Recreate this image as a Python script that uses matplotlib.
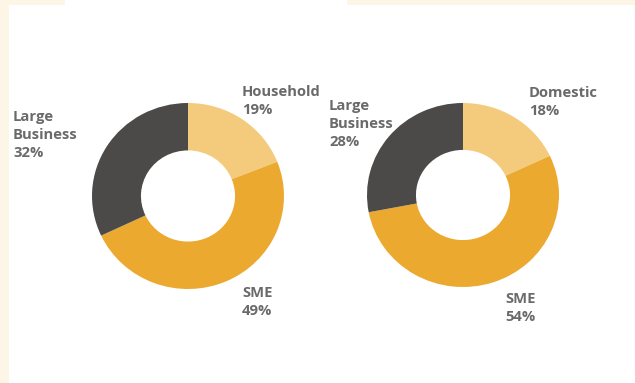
import matplotlib
matplotlib.use("Agg")
import matplotlib.pyplot as plt
from matplotlib.patches import Rectangle

W, H = 635, 383
DPI = 100

# Segment shares for each donut (clockwise from 12 o'clock)
left_labels = ["Household", "SME", "Large\nBusiness"]
left_values = [19, 49, 32]
right_labels = ["Domestic", "SME", "Large\nBusiness"]
right_values = [18, 54, 28]

colors = ["#F4CB7C", "#ECA92F", "#4B4A49"]
text_color = "#6A6A6A"
cream = "#FDF6E6"

fig = plt.figure(figsize=(W / DPI, H / DPI), dpi=DPI)
fig.patch.set_facecolor("white")

# Cream frame fragments
for x, y, w, h in [(0, 0, 9, H), (0, 0, 65, 5), (347, 0, W - 347, 5)]:
    fig.add_artist(Rectangle((x / W, 1 - (y + h) / H), w / W, h / H,
                             transform=fig.transFigure, color=cream, lw=0, zorder=0))


def donut(cx, cy, rx, ry, values):
    ax = fig.add_axes([(cx - rx) / W, 1 - (cy + ry) / H, 2 * rx / W, 2 * ry / H])
    ax.pie(values, colors=colors, startangle=90, counterclock=False,
           radius=1.0, wedgeprops=dict(width=0.51, linewidth=0))
    ax.set_aspect("auto")
    ax.set_xlim(-1, 1)
    ax.set_ylim(-1, 1)
    ax.axis("off")


donut(188, 196, 96, 93, left_values)
donut(463, 195, 96, 92, right_values)

font = dict(family=["Open Sans", "DejaVu Sans"], fontweight="bold",
            fontsize=10.6, color=text_color, linespacing=1.38, va="top", ha="left")


def label(x, y, name, val):
    fig.text(x / W, 1 - y / H, f"{name}\n{val}%", **font)


label(13, 110, left_labels[2], left_values[2])
label(242, 85, left_labels[0], left_values[0])
label(242, 286, left_labels[1], left_values[1])
label(329, 99, right_labels[2], right_values[2])
label(529, 86, right_labels[0], right_values[0])
label(505, 292, right_labels[1], right_values[1])

fig.savefig("out.png", dpi=DPI, facecolor="white")
